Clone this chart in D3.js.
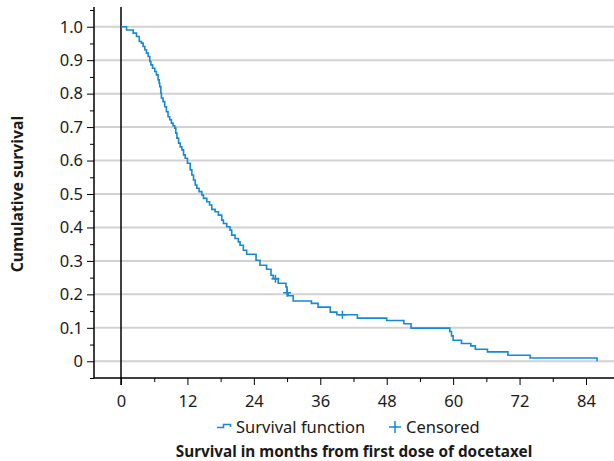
<!DOCTYPE html>
<html><head><meta charset="utf-8">
<script src="https://cdn.jsdelivr.net/npm/d3@7"></script>
<style>body{margin:0;background:#fff}svg{display:block}text{font-family:"Noto Sans","Open Sans",sans-serif;fill:#1a1a1a}</style>
</head><body>
<svg id="c" width="614" height="461"></svg>
<script>
// Kaplan-Meier estimate (time in months, survival after the step)
const times = [0, 1.0, 2.2, 2.8, 3.3, 3.7, 4.0, 4.3, 4.6, 4.9, 5.2, 5.4, 5.7, 6.1, 6.4, 6.7, 6.9, 7.0, 7.2, 7.3, 7.6, 7.9, 8.2, 8.5, 8.8, 9.1, 9.4, 9.7, 9.9, 10.1, 10.4, 10.7, 11.0, 11.3, 11.6, 12.0, 12.5, 12.8, 13.1, 13.4, 13.7, 14.1, 14.6, 14.9, 15.5, 16.0, 16.4, 17.0, 17.6, 18.2, 18.5, 19.1, 19.7, 20.0, 20.6, 21.2, 21.5, 22.1, 22.7, 24.4, 25.1, 26.3, 27.1, 27.5, 28.4, 29.8, 30.0, 30.2, 31.1, 34.4, 35.6, 37.8, 39.0, 42.7, 48.0, 51.1, 52.4, 59.4, 59.7, 60.0, 61.5, 63.2, 64.0, 66.2, 69.9, 73.9, 86.0];
const survival = [1.0, 0.990, 0.981, 0.971, 0.956, 0.951, 0.941, 0.931, 0.921, 0.911, 0.896, 0.886, 0.876, 0.866, 0.856, 0.841, 0.831, 0.821, 0.801, 0.787, 0.776, 0.761, 0.746, 0.731, 0.722, 0.712, 0.704, 0.697, 0.682, 0.667, 0.652, 0.641, 0.632, 0.617, 0.607, 0.592, 0.572, 0.557, 0.542, 0.527, 0.517, 0.507, 0.497, 0.487, 0.477, 0.467, 0.454, 0.447, 0.437, 0.422, 0.412, 0.402, 0.392, 0.377, 0.367, 0.357, 0.347, 0.332, 0.320, 0.302, 0.287, 0.275, 0.257, 0.247, 0.233, 0.222, 0.205, 0.196, 0.180, 0.173, 0.162, 0.147, 0.139, 0.129, 0.122, 0.112, 0.099, 0.089, 0.076, 0.063, 0.053, 0.046, 0.036, 0.028, 0.018, 0.010, 0.0];
const censorTimes = [27.9, 30.0, 40.0];
const censorSurv = [0.247, 0.205, 0.139];
const xTicks = [0, 12, 24, 36, 48, 60, 72, 84];
const xMinor = [6, 18, 30, 42, 54, 66, 78];
const yTicks = [0, 0.1, 0.2, 0.3, 0.4, 0.5, 0.6, 0.7, 0.8, 0.9, 1.0];
const yMinor = [-0.05, 0.05, 0.15, 0.25, 0.35, 0.45, 0.55, 0.65, 0.75, 0.85, 0.95, 1.05];
const yLabels = ["0", "0.1", "0.2", "0.3", "0.4", "0.5", "0.6", "0.7", "0.8", "0.9", "1.0"];

const svg = d3.select("#c");
const L = 94, R = 614, T = 10, B = 378;
const x = d3.scaleLinear().domain([-4.877, 89.06]).range([L, R]);
const y = d3.scaleLinear().domain([-0.05, 1.05]).range([B, T]);
const blue = "#1589d3";
const FS = 16.5;

// gridlines
svg.append("g").selectAll("line").data(yTicks).join("line")
  .attr("x1", L).attr("x2", R).attr("y1", d => y(d)).attr("y2", d => y(d))
  .attr("stroke", "#d2d2d2").attr("stroke-width", 2);

// y axis
const yAx = svg.append("g").attr("transform", `translate(${L},0)`)
  .call(d3.axisLeft(y).tickValues(yTicks).tickSize(7).tickSizeOuter(0).tickFormat((d, i) => yLabels[i]));
yAx.select(".domain").remove();
yAx.selectAll("line").attr("stroke", "#000");
yAx.selectAll("text").attr("font-size", FS).attr("x", -11).attr("fill", "#1a1a1a")
  .style("font-family", '"Noto Sans","Open Sans",sans-serif');
const yMin = svg.append("g").attr("transform", `translate(${L},0)`)
  .call(d3.axisLeft(y).tickValues(yMinor).tickSize(4).tickFormat(""));
yMin.select(".domain").remove();
yMin.selectAll("line").attr("stroke", "#000");

// x axis
const xAx = svg.append("g").attr("transform", `translate(0,${B})`)
  .call(d3.axisBottom(x).tickValues(xTicks).tickSize(7).tickSizeOuter(0));
xAx.select(".domain").remove();
xAx.selectAll("line").attr("stroke", "#000");
xAx.selectAll("text").attr("font-size", FS).attr("y", 17).attr("fill", "#1a1a1a")
  .style("font-family", '"Noto Sans","Open Sans",sans-serif');
const xMin = svg.append("g").attr("transform", `translate(0,${B})`)
  .call(d3.axisBottom(x).tickValues(xMinor).tickSize(4).tickFormat(""));
xMin.select(".domain").remove();
xMin.selectAll("line").attr("stroke", "#000");

// axis lines
svg.append("line").attr("x1", L).attr("x2", L).attr("y1", 7).attr("y2", B).attr("stroke", "#000").attr("stroke-width", 1.5);
svg.append("line").attr("x1", L).attr("x2", R).attr("y1", B).attr("y2", B).attr("stroke", "#000").attr("stroke-width", 1.5);
svg.append("line").attr("x1", x(0)).attr("x2", x(0)).attr("y1", 7).attr("y2", B + 7).attr("stroke", "#000").attr("stroke-width", 1.5);

// survival curve
const pts = times.map((t, i) => [t, survival[i]]);
svg.append("path").datum(pts)
  .attr("d", d3.line().x(d => x(d[0])).y(d => y(d[1])).curve(d3.curveStepAfter))
  .attr("fill", "none").attr("stroke", blue).attr("stroke-width", 1.6);

// censor marks
const cz = 4;
censorTimes.forEach((t, i) => {
  const cx = x(t), cy = y(censorSurv[i]);
  svg.append("path").attr("d", `M${cx - cz},${cy}H${cx + cz}M${cx},${cy - cz}V${cy + cz}`)
    .attr("stroke", blue).attr("stroke-width", 1.5).attr("fill", "none");
});

// legend
const lg = svg.append("g");
lg.append("path").attr("d", "M217,427.5H223.5V424.5H230.5V427")
  .attr("fill", "none").attr("stroke", blue).attr("stroke-width", 1.5);
lg.append("text").attr("x", 236).attr("y", 433).attr("font-size", FS).text("Survival function");
lg.append("path").attr("d", "M389,427H401M395,421V433")
  .attr("fill", "none").attr("stroke", blue).attr("stroke-width", 1.5);
lg.append("text").attr("x", 406).attr("y", 433).attr("font-size", FS).text("Censored");

// axis titles
svg.append("text").attr("x", (L + R) / 2).attr("y", 457).attr("text-anchor", "middle")
  .attr("font-size", 15.3).attr("font-weight", "bold").text("Survival in months from first dose of docetaxel");
svg.append("text").attr("transform", `translate(23,${(T + B) / 2}) rotate(-90)`).attr("text-anchor", "middle")
  .attr("font-size", 15.8).attr("font-weight", "bold").text("Cumulative survival");
</script>
</body></html>
